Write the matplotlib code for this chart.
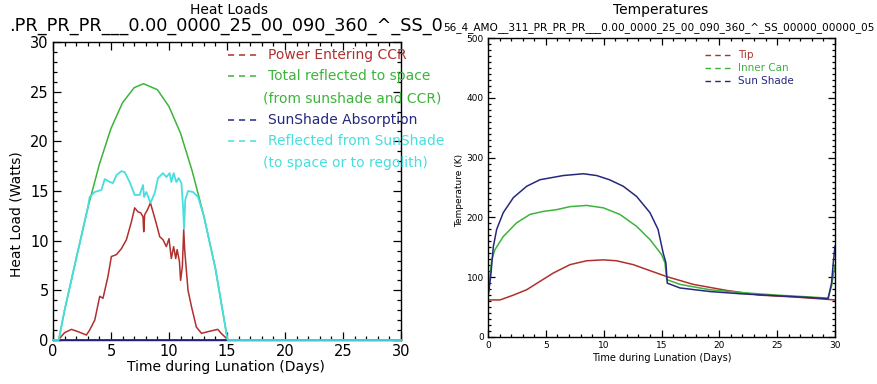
import matplotlib
matplotlib.use("Agg")
import matplotlib.pyplot as plt
from matplotlib.ticker import MultipleLocator
from matplotlib.transforms import Bbox

# ── Heat loads (left panel) ─────────────────────────────────────────────────
power_t = [0.0, 0.5, 0.58, 1.0, 1.59, 2.16, 2.88, 3.16, 3.6, 4.03, 4.31, 4.74, 5.03,
           5.47, 5.9, 6.33, 6.76, 7.04, 7.33, 7.56, 7.76, 7.82, 7.9, 8.14, 8.4,
           8.62, 8.91, 9.2, 9.48, 9.77, 10.0, 10.2, 10.4, 10.58, 10.7, 10.9,
           11.0, 11.15, 11.27, 11.35, 11.64, 11.93, 12.36, 12.8, 13.36, 13.94,
           14.2, 14.5, 14.95, 15.1, 30.0]
power_w = [0.0, 0.0, 0.17, 0.74, 1.07, 0.84, 0.5, 1.0, 2.0, 4.4, 4.2, 6.4, 8.4,
           8.6, 9.2, 10.1, 11.9, 13.3, 12.9, 12.8, 12.4, 10.9, 12.6, 13.1, 13.8,
           12.9, 11.7, 10.4, 10.1, 9.4, 10.2, 8.2, 9.4, 8.2, 9.1, 7.9,
           6.0, 7.4, 11.1, 9.1, 5.0, 3.4, 1.3, 0.67, 0.84, 1.0,
           1.07, 0.67, 0.17, 0.0, 0.0]

total_t = [0.0, 0.49, 1.0, 2.0, 3.0, 4.0, 5.0, 6.0, 7.0, 7.8, 9.0, 10.0, 11.0,
           12.0, 12.65, 13.0, 14.0, 15.05, 30.0]
total_w = [0.0, 0.0, 3.0, 8.2, 13.3, 17.7, 21.3, 23.9, 25.4, 25.8, 25.2, 23.5,
           20.8, 17.0, 14.1, 12.5, 7.2, 0.0, 0.0]

absorb_t = [0.0, 30.0]
absorb_w = [0.0, 0.0]

refl_t = [0.0, 0.49, 1.0, 2.0, 3.0, 3.16, 3.6, 4.17, 4.46, 4.89, 5.17, 5.47, 5.9,
          6.18, 6.61, 7.04, 7.47, 7.76, 7.85, 8.05, 8.4, 8.77, 9.05, 9.48,
          9.77, 10.06, 10.2, 10.4, 10.63, 10.83, 11.07, 11.2, 11.3, 11.4,
          11.64, 12.07, 12.5, 13.0, 14.0, 15.05, 30.0]
refl_w = [0.0, 0.0, 3.0, 8.2, 13.3, 14.4, 14.9, 15.1, 16.2, 15.9, 15.8, 16.6, 17.0,
          16.9, 15.9, 14.6, 14.6, 15.6, 14.4, 14.9, 13.8, 14.8, 16.3, 16.8,
          16.4, 16.8, 15.9, 16.8, 15.9, 16.3, 15.8, 13.6, 11.2, 14.1,
          15.0, 14.9, 14.4, 12.5, 7.2, 0.0, 0.0]

# ── Temperatures (right panel) ──────────────────────────────────────────────
tip_t = [0.0, 1.04, 2.19, 3.34, 4.49, 5.65, 7.09, 8.53, 9.97, 11.1, 12.56, 14.0,
         15.45, 17.74, 20.6, 23.5, 26.4, 29.3, 30.0]
tip_k = [62, 62, 70, 79, 93, 107, 121, 127.5, 129, 127.5, 121, 111,
         101, 88, 78, 70, 67, 63, 62]

can_t = [0.0, 0.15, 0.32, 0.6, 1.32, 2.48, 3.63, 4.78, 5.94, 7.09, 8.53, 9.97,
         11.4, 12.85, 14.0, 15.0, 15.3, 15.45, 16.6, 17.74, 19.2, 22.07, 25.0,
         27.8, 29.4, 29.7, 30.0]
can_k = [66, 100, 129, 146, 168, 191, 205, 210, 213, 218, 220, 216,
         205, 185, 163, 138, 124, 96, 88, 84, 79, 74, 70,
         67, 65, 85, 120]

shade_t = [0.0, 0.23, 0.46, 0.75, 1.32, 2.19, 3.34, 4.49, 5.36, 6.51, 8.24, 9.39,
           10.5, 11.7, 12.85, 14.0, 14.7, 15.15, 15.38, 15.5, 16.6, 19.2, 22.07,
           25.0, 27.8, 29.4, 29.7, 29.85, 30.0]
shade_k = [66, 101, 151, 180, 208, 233, 252, 263, 266, 270, 273, 270,
           263, 252, 235, 208, 180, 140, 124, 90, 82, 76, 72,
           69, 66, 64, 90, 124, 152]

RED = "#b0302e"
GREEN = "#3cb43c"
NAVY = "#26287e"
CYAN = "#48dede"

fig = plt.figure(figsize=(8.77, 3.84), dpi=100)
W, H = 877.0, 384.0


def px_axes(x0, y0, x1, y1):
    # pixel box (left, top, right, bottom) -> figure axes
    return fig.add_axes([x0 / W, 1 - y1 / H, (x1 - x0) / W, (y1 - y0) / H])


def style(ax, fs, major, minor):
    ax.tick_params(which="both", direction="in", top=True, right=True,
                   labelsize=fs, width=0.9, pad=3)
    ax.tick_params(which="major", length=major)
    ax.tick_params(which="minor", length=minor)
    for s in ax.spines.values():
        s.set_linewidth(1.0)


# left panel
ax1 = px_axes(53, 42, 401, 340)
ax1.plot(power_t, power_w, color=RED, lw=1.1)
ax1.plot(total_t, total_w, color=GREEN, lw=1.1)
ax1.plot(absorb_t, absorb_w, color=NAVY, lw=1.3, clip_on=False, zorder=3)
ax1.plot(refl_t, refl_w, color=CYAN, lw=1.3, clip_on=False, zorder=3)
ax1.set_xlim(0, 30)
ax1.set_ylim(0, 30)
ax1.xaxis.set_major_locator(MultipleLocator(5))
ax1.xaxis.set_minor_locator(MultipleLocator(1))
ax1.yaxis.set_major_locator(MultipleLocator(5))
ax1.yaxis.set_minor_locator(MultipleLocator(1))
style(ax1, 10.5, 6, 3)
fig.text(226 / W, 1 - 367 / H, "Time during Lunation (Days)", fontsize=10,
         ha="center", va="center")
fig.text(17 / W, 1 - 214 / H, "Heat Load (Watts)", fontsize=10, rotation=90,
         ha="center", va="center")

clip = Bbox.from_extents(0, 0, 445, H)
leg1 = [("Power Entering CCR", RED, 55, True),
        ("Total reflected to space", GREEN, 76, True),
        ("(from sunshade and CCR)", GREEN, 98, False),
        ("SunShade Absorption", NAVY, 120, True),
        ("Reflected from SunShade", CYAN, 141, True),
        ("(to space or to regolith)", CYAN, 163, False)]
for label, c, yp, dash in leg1:
    if dash:
        fig.add_artist(plt.Line2D([228 / W, 259 / W], [1 - yp / H, 1 - yp / H],
                                  color=c, lw=1.1, ls=(0, (4, 3.2))))
    xt = 268 if dash else 263
    t = fig.text(xt / W, 1 - yp / H, label, color=c, fontsize=10,
                 ha="left", va="center")
    t.set_clip_box(clip)
    t.set_clip_on(True)

fig.text(229 / W, 1 - 10 / H, "Heat Loads", fontsize=10, ha="center", va="center")
fig.text(443 / W, 1 - 26 / H, ".PR_PR_PR___0.00_0000_25_00_090_360_^_SS_0",
         fontsize=12.7, ha="right", va="center")

# right panel
ax2 = px_axes(488, 38, 835, 337)
ax2.plot(tip_t, tip_k, color=RED, lw=1.1)
ax2.plot(can_t, can_k, color=GREEN, lw=1.1)
ax2.plot(shade_t, shade_k, color=NAVY, lw=1.1)
ax2.set_xlim(0, 30)
ax2.set_ylim(0, 500)
ax2.xaxis.set_major_locator(MultipleLocator(5))
ax2.xaxis.set_minor_locator(MultipleLocator(1))
ax2.yaxis.set_major_locator(MultipleLocator(100))
ax2.yaxis.set_minor_locator(MultipleLocator(10))
style(ax2, 6.5, 5, 2.5)
fig.text(662 / W, 1 - 358 / H, "Time during Lunation (Days)", fontsize=7,
         ha="center", va="center")
fig.text(460 / W, 1 - 190 / H, "Temperature (K)", fontsize=6.5, rotation=90,
         ha="center", va="center")

leg2 = [("Tip", RED, 55), ("Inner Can", GREEN, 68), ("Sun Shade", NAVY, 81)]
for label, c, yp in leg2:
    fig.add_artist(plt.Line2D([705 / W, 730 / W], [1 - yp / H, 1 - yp / H],
                              color=c, lw=1.0, ls=(0, (4, 3))))
    fig.text(738 / W, 1 - yp / H, label, color=c, fontsize=7.5,
             ha="left", va="center")

fig.text(661 / W, 1 - 10 / H, "Temperatures", fontsize=10, ha="center", va="center")
fig.text(443 / W, 1 - 28 / H,
         "56_4_AMO__311_PR_PR_PR___0.00_0000_25_00_090_360_^_SS_00000_00000_05",
         fontsize=7.6, ha="left", va="center")

fig.savefig("out.png", dpi=100)
